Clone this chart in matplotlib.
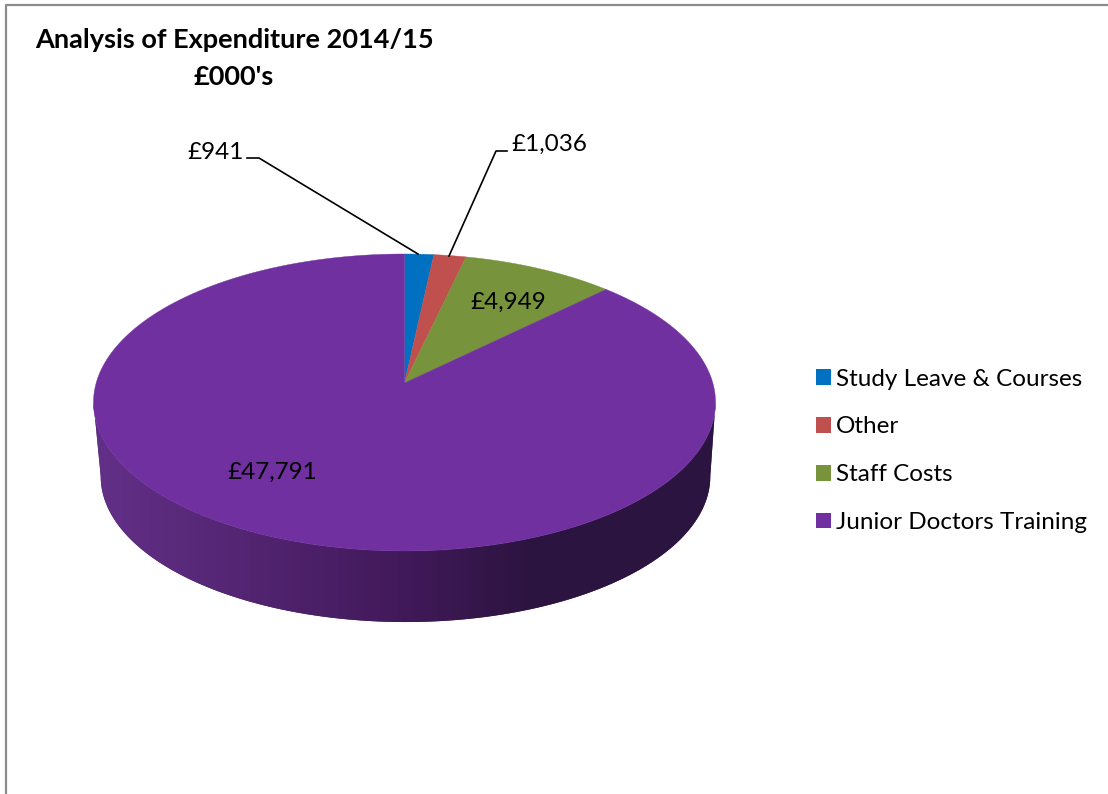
import numpy as np
import matplotlib
matplotlib.use("Agg")
import matplotlib.pyplot as plt
from matplotlib.colors import LinearSegmentedColormap
from matplotlib.patches import Patch

categories = ["Study Leave & Courses", "Other", "Staff Costs", "Junior Doctors Training"]
values = [941, 1036, 4949, 47791]
value_labels = ["£941", "£1,036", "£4,949", "£47,791"]
colors = ["#0070C0", "#C0504D", "#77933C", "#7030A0"]

plt.rcParams["font.family"] = ["Lato", "DejaVu Sans"]


def project(theta, scale=1.0, drop=0.0, shift=0.0):
    # disc in perspective, theta runs clockwise from 12 o'clock
    u, v = np.sin(theta), np.cos(theta)
    d = 1 + 0.1313 * v
    x = 404.5 + scale * 308.3 * u / d
    y = (383 - 95.65 * v) / d
    return x + shift, 402.5 + scale * (y - 402.5) + drop


def main():
    fig = plt.figure(figsize=(11.08, 7.94), dpi=100)
    ax = fig.add_axes([0, 0, 1, 1])
    ax.set_xlim(0, 1108)
    ax.set_ylim(794, 0)
    ax.axis("off")

    # chart border, only top and left are inside the crop
    ax.plot([5.5, 5.5, 1108], [794, 4.5, 4.5], color="#8c8c8c", lw=1.6, zorder=1)

    # side of the disc
    front = np.linspace(np.pi / 2 + 0.13, 3 * np.pi / 2 - 0.13, 300)
    tx, ty = project(front)
    bx, by = project(front, 0.98, 74, 1.0)
    side_x = np.concatenate([tx, bx[::-1]])
    side_y = np.concatenate([ty, by[::-1]])
    poly = ax.fill(side_x, side_y, color="#4a1f66", lw=0, zorder=2)[0]
    side_cmap = LinearSegmentedColormap.from_list(
        "side", [(0, "#2c1440"), (0.3, "#2c1440"), (0.52, "#431a5c"), (1, "#633088")]
    )
    img = ax.imshow(np.linspace(0, 1, 256)[::-1].reshape(1, -1), cmap=side_cmap,
                    extent=[93, 716, 640, 390], aspect="auto", zorder=3)
    img.set_clip_path(poly)
    ax.set_xlim(0, 1108)
    ax.set_ylim(794, 0)

    # top of the disc
    edges = np.cumsum([0] + values) / sum(values) * 2 * np.pi
    for i in range(len(values)):
        t = np.linspace(edges[i], edges[i + 1], 300)
        x, y = project(t)
        ax.fill(np.r_[404.5, x], np.r_[383, y], color=colors[i], lw=0.3, zorder=4)

    # data labels
    label_pos = [(216, 152.5), (549, 144), (508, 302), (272, 472)]
    for s, (lx, ly) in zip(value_labels, label_pos):
        ax.text(lx, ly, s, fontsize=17.5, color="black", ha="center", va="center", zorder=6)

    # leader lines
    ax.plot([247, 259, 418], [158, 158, 254], color="black", lw=1.2, zorder=5)
    ax.plot([507, 496, 449], [151, 151, 256], color="black", lw=1.2, zorder=5)

    ax.text(234, 39.5, "Analysis of Expenditure 2014/15", fontsize=19.5, fontweight="bold",
            ha="center", va="center", zorder=6)
    ax.text(234, 77, "£000's", fontsize=19.5, fontweight="bold",
            ha="center", va="center", zorder=6)

    handles = [Patch(facecolor=c, edgecolor="none", label=n) for c, n in zip(colors, categories)]
    ax.legend(handles=handles, loc="upper left", bbox_to_anchor=(816 / 1108, 1 - 368.5 / 794),
              frameon=False, fontsize=17.5, handlelength=0.617, handleheight=0.617,
              handletextpad=0.2, labelspacing=1.105, borderpad=0, borderaxespad=0)

    fig.savefig("out.png", dpi=100)


if __name__ == "__main__":
    main()
